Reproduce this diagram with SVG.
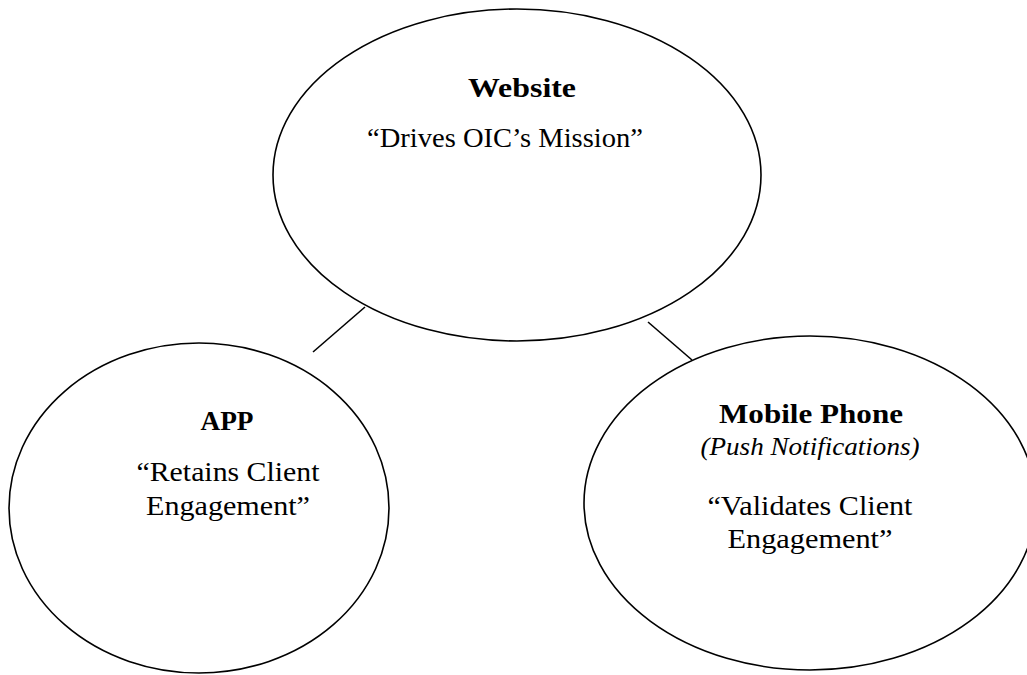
<svg xmlns="http://www.w3.org/2000/svg" width="1027" height="675" viewBox="0 0 1027 675">
<style>
.n{fill:#fff;stroke:#000;stroke-width:1.6}
.c line{stroke:#000;stroke-width:1.6}
text{font-family:"Liberation Serif","DejaVu Serif",serif;fill:#000;text-anchor:middle}
.t{font-weight:bold;font-size:27px}
.b{font-size:28px}
.i{font-style:italic;font-size:25px}
</style>
<rect width="1027" height="675" fill="#fff"/>
<g id="connectors" class="c">
<line x1="365" y1="307" x2="313" y2="352"/>
<line x1="648" y1="322" x2="692" y2="360"/>
</g>
<g id="website">
<ellipse class="n" cx="517" cy="175" rx="244" ry="166"/>
<text class="t" x="522" y="97" textLength="108" lengthAdjust="spacingAndGlyphs">Website</text>
<text class="b" x="505" y="147" textLength="276" lengthAdjust="spacingAndGlyphs">“Drives OIC’s Mission”</text>
</g>
<g id="app">
<ellipse class="n" cx="199" cy="508" rx="190" ry="165"/>
<text class="t" x="227" y="430" textLength="53" lengthAdjust="spacingAndGlyphs">APP</text>
<text class="b" x="228" y="481" textLength="183" lengthAdjust="spacingAndGlyphs">“Retains Client</text>
<text class="b" x="228" y="515" textLength="164" lengthAdjust="spacingAndGlyphs">Engagement”</text>
</g>
<g id="mobile">
<ellipse class="n" cx="810" cy="503" rx="226" ry="167"/>
<text class="t" x="811" y="423" textLength="184" lengthAdjust="spacingAndGlyphs">Mobile Phone</text>
<text class="i" x="810" y="455" textLength="219" lengthAdjust="spacingAndGlyphs">(Push Notifications)</text>
<text class="b" x="810" y="515" textLength="205" lengthAdjust="spacingAndGlyphs">“Validates Client</text>
<text class="b" x="810" y="548" textLength="165" lengthAdjust="spacingAndGlyphs">Engagement”</text>
</g>
</svg>
